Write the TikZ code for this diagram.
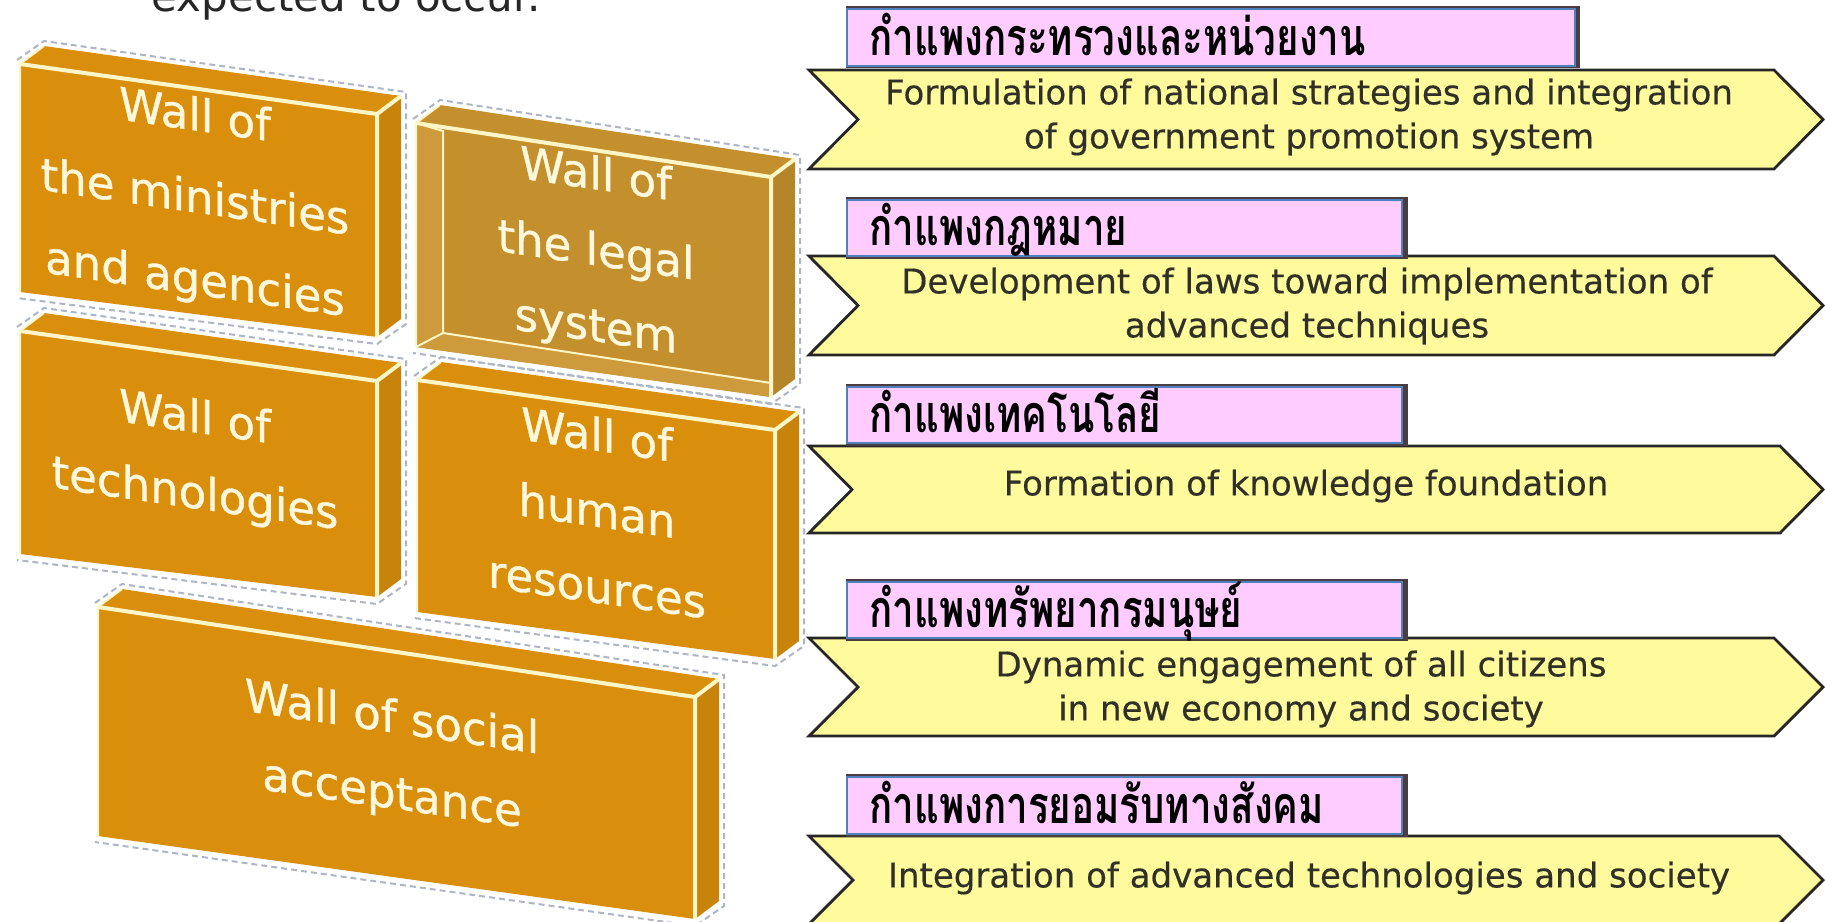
\documentclass[tikz,border=0pt]{standalone}
\usepackage{fontspec}
\setmainfont{DejaVu Sans}
\newfontfamily\wallfont[FakeBold=0.8]{DejaVu Sans}
\newfontfamily\arrowfont[FakeBold=0.4]{DejaVu Sans}
\newfontfamily\thaifont[Script=Thai, FakeStretch=0.74]{Loma}
\usetikzlibrary{calc}
\definecolor{wallc}{HTML}{D98E0C}
\definecolor{legalc}{HTML}{C4902D}
\definecolor{legalbevel}{HTML}{CD9A3C}
\definecolor{cream}{HTML}{FFF6C8}
\definecolor{creamtxt}{HTML}{FFF8DC}
\definecolor{pinkc}{HTML}{FFCCFF}
\definecolor{bluec}{HTML}{4F81BD}
\definecolor{shadowc}{HTML}{4A3C40}
\definecolor{yellowc}{HTML}{FFFB9C}
\definecolor{arrowtxt}{HTML}{303028}
\definecolor{dashc}{HTML}{AEB6C6}
\tikzset{
  creamthick/.style={draw=cream, line width=2pt, line join=round},
  creamthin/.style={draw=cream, line width=1pt},
  dashline/.style={draw=dashc, line width=1pt, dash pattern=on 3pt off 2pt},
  walltxt/.style={font=\wallfont\fontsize{22.5}{38}\selectfont, text=creamtxt, align=center, inner sep=0pt},
  chevron/.style={fill=yellowc, draw=black!85, line width=1.4pt, line join=miter},
  arrowlabel/.style={font=\arrowfont\fontsize{17}{22}\selectfont, text=arrowtxt, align=center, inner sep=0pt},
  pinkbox/.style={fill=pinkc, draw=bluec, line width=0.8pt},
  boxshadow/.style={fill=shadowc},
  thailabel/.style={font=\thaifont\bfseries\fontsize{26}{30}\selectfont, anchor=base west, inner sep=0pt},
}
\newcommand\wallfaces[1]{%
  \path (flt) ++(24,-18) coordinate (blt);
  \path (frt) ++(24,-18) coordinate (brt);
  \path (frb) ++(24,-18) coordinate (brb);
  \draw[dashline] ($(flt)+(-3,-4)$) -- ($(blt)+(0,-5)$) -- ($(brt)+(5,-4)$) -- ($(brb)+(5,5)$) -- ($(frb)+(0,7)$) -- ($(flb)+(-3,6)$);
  \fill[#1] (flt) -- (blt) -- (brt) -- (frt) -- cycle;
  \fill[#1!92!black] (frt) -- (brt) -- (brb) -- (frb) -- cycle;
  \fill[#1] (flt) -- (frt) -- (frb) -- (flb) -- cycle;
}
\newcommand\walledges{%
  \draw[creamthick] (flt) -- (frt) -- (frb);
  \draw[creamthick] (frt) -- (brt);
  \draw[creamthin] (blt) -- (flt) -- (flb);
}
\newcommand\walltext[4][]{%
  \begin{scope}[shift={#2}, yslant=-0.145]
    \node[walltxt, transform shape, #1] (#3) at (0,0) {#4};
  \end{scope}}
\begin{document}
\begin{tikzpicture}[x=0.5pt, y=-0.5pt]
\useasboundingbox (0,0) rectangle (1825,921);
\fill[white] (0,0) rectangle (1825,921);

% title (cut off at top, as in the source)
\node[anchor=base, font=\fontsize{21}{25}\selectfont, text=black!85, inner sep=0pt] (title) at (346,11) {expected to occur.};

% ---------- walls ----------
% ministries
\coordinate (flt) at (20,64); \coordinate (frt) at (377,114);
\coordinate (frb) at (377,337); \coordinate (flb) at (20,292);
\wallfaces{wallc}\walledges
\walltext[font=\wallfont\fontsize{22.5}{41}\selectfont]{(195,200)}{w1}{Wall of\\the ministries\\and agencies}

% legal system
\coordinate (flt) at (416,123); \coordinate (frt) at (771,177);
\coordinate (frb) at (771,397); \coordinate (flb) at (416,347);
\wallfaces{legalc}
\path ($(flt)+(27,8)$) coordinate (ilt) ($(flb)+(27,-14)$) coordinate (ilb) ($(frb)+(0,-14)$) coordinate (irb);
\fill[legalbevel] (flt) -- (ilt) -- (ilb) -- (irb) -- (frb) -- (flb) -- cycle;
\draw[creamthin] (flt) -- (ilt) -- (ilb) -- (irb);
\draw[creamthin] (flb) -- (ilb);
\walledges
\walltext{(596,253)}{w2}{Wall of\\the legal\\system}

% technologies
\coordinate (flt) at (20,331); \coordinate (frt) at (377,381);
\coordinate (frb) at (377,597); \coordinate (flb) at (20,554);
\wallfaces{wallc}\walledges
\walltext{(195,458)}{w3}{Wall of\\technologies}

% human resources
\coordinate (flt) at (417,380); \coordinate (frt) at (775,430);
\coordinate (frb) at (775,659); \coordinate (flb) at (417,612);
\wallfaces{wallc}\walledges
\walltext{(597,510)}{w4}{Wall of\\human\\resources}

% social acceptance
\coordinate (flt) at (98,607); \coordinate (frt) at (695,697);
\coordinate (frb) at (695,919); \coordinate (flb) at (98,836);
\wallfaces{wallc}\walledges
\walltext{(392,758)}{w5}{Wall of social\\acceptance}

% ---------- chevrons ----------
\draw[chevron] (809,70) -- (1774,70) -- (1823,119.5) -- (1774,169) -- (809,169) -- (858,119.5) -- cycle;
\draw[chevron] (809,256) -- (1774,256) -- (1823,305.5) -- (1774,355) -- (809,355) -- (858,305.5) -- cycle;
\draw[chevron] (809,446) -- (1780,446) -- (1823,489.5) -- (1780,533) -- (809,533) -- (852,489.5) -- cycle;
\draw[chevron] (809,638) -- (1774,638) -- (1823,687) -- (1774,736) -- (809,736) -- (858,687) -- cycle;
\draw[chevron] (809,836) -- (1779,836) -- (1823,880) -- (1779,924) -- (809,924) -- (853,880) -- cycle;

\node[arrowlabel] (a1) at (1309,117) {Formulation of national strategies and integration\\of government promotion system};
\node[arrowlabel] (a2) at (1307,306) {Development of laws toward implementation of\\advanced techniques};
\node[arrowlabel] (a3) at (1306,486) {Formation of knowledge foundation};
\node[arrowlabel] (a4) at (1301,689) {Dynamic engagement of all citizens\\in new economy and society};
\node[arrowlabel] (a5) at (1309,878) {Integration of advanced technologies and society};

% ---------- pink labels ----------
\fill[boxshadow] (846,6) rectangle (1580,68);
\draw[pinkbox] (847,9) rectangle (1575,66);
\fill[boxshadow] (846,197) rectangle (1408,259);
\draw[pinkbox] (847,200) rectangle (1402,256);
\fill[boxshadow] (846,384) rectangle (1408,446);
\draw[pinkbox] (847,387) rectangle (1402,443);
\fill[boxshadow] (846,579) rectangle (1408,641);
\draw[pinkbox] (847,582) rectangle (1402,638);
\fill[boxshadow] (846,774) rectangle (1408,837);
\draw[pinkbox] (847,777) rectangle (1402,834);

\node[thailabel] (t1) at (869,55) {กำแพงกระทรวงและหน่วยงาน};
\node[thailabel] (t2) at (869,245) {กำแพงกฎหมาย};
\node[thailabel] (t3) at (869,432) {กำแพงเทคโนโลยี};
\node[thailabel] (t4) at (869,627) {กำแพงทรัพยากรมนุษย์};
\node[thailabel] (t5) at (869,823) {กำแพงการยอมรับทางสังคม};
\end{tikzpicture}
\end{document}
